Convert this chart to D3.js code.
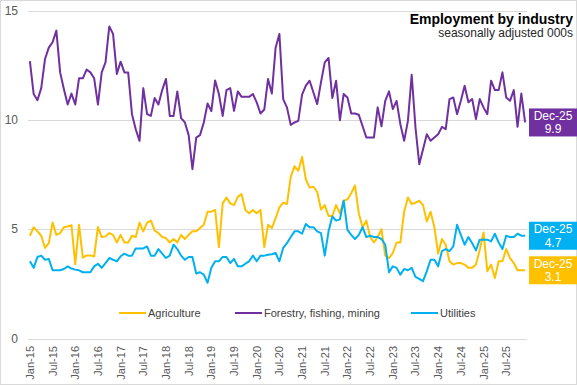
<!DOCTYPE html>
<html>
<head>
<meta charset="utf-8">
<script src="https://cdn.jsdelivr.net/npm/d3@7"></script>
<style>
  body { margin: 0; background: #fff; }
  svg { display: block; font-family: "Liberation Sans", Arial, sans-serif; }
</style>
</head>
<body>
<svg id="chart" width="577" height="385"></svg>
<script>
// monthly categories Jan-15 .. Dec-25
const months = d3.timeMonth.range(new Date(2015, 0, 1), new Date(2026, 0, 1));
const yTicks = [0, 5, 10, 15];

const agriculture = [
  4.7, 5.09, 4.9, 4.7, 4.14, 4.36, 5.3, 4.74, 4.82, 5.09, 5.12, 5.18,
  3.4, 5.2, 3.7, 3.8, 3.8, 3.75, 5.1, 4.64, 4.67, 4.82, 4.74, 4.39,
  4.74, 4.39, 4.39, 4.7, 4.64, 5.3, 4.9, 5.3, 5.39, 4.94, 4.82, 4.64,
  4.59, 4.39, 4.55, 4.39, 4.74, 4.55, 4.74, 4.9, 4.9, 5.05, 5.2, 5.8,
  5.8, 5.88, 4.18, 6.18, 6.45, 6.18, 6.1, 6.48, 6.6, 5.88, 5.73, 5.88,
  5.73, 5.88, 4.18, 5.2, 5.05, 5.5, 6.0, 6.21, 6.15, 7.39, 7.88, 7.67,
  8.3, 7.27, 6.9, 6.94, 6.71, 5.9, 6.1, 5.6, 5.6, 6.1, 5.73, 6.3,
  6.36, 6.64, 7.0, 5.73, 5.09, 5.39, 4.64, 4.39, 4.64, 5.0, 3.79, 3.68,
  3.91, 4.39, 4.39, 5.8, 6.45, 6.15, 6.21, 6.3, 6.1, 5.35, 5.8, 5.09,
  3.88, 4.55, 4.29, 3.53, 3.38, 3.45, 3.45, 3.38, 3.23, 3.23, 3.38, 4.06,
  4.85, 3.08, 3.38, 2.77, 3.53, 3.53, 4.09, 3.68, 3.45, 3.12, 3.12, 3.12
];

const forestry = [
  12.68, 11.18, 10.9, 11.45, 12.78, 13.3, 13.55, 14.08, 12.17, 11.4, 10.7, 11.2,
  10.7, 11.9, 11.9, 12.3, 12.17, 11.9, 10.7, 12.17, 12.63, 14.27, 13.93, 12.1,
  12.66, 12.17, 12.17, 10.26, 9.57, 9.04, 11.45, 10.26, 10.18, 11.0, 10.7, 11.36,
  11.87, 10.18, 10.18, 11.3, 10.08, 9.88, 9.3, 7.74, 9.19, 9.3, 9.88, 10.75,
  10.4, 11.8, 11.18, 10.18, 11.36, 11.45, 10.41, 11.3, 11.05, 11.05, 11.05, 11.18,
  10.8, 10.29, 10.47, 11.87, 11.2, 13.3, 13.93, 10.95, 10.57, 9.77, 9.88, 9.95,
  11.15, 11.56, 11.79, 11.25, 10.72, 11.71, 12.63, 12.83, 11.0, 11.79, 9.98, 11.18,
  11.02, 10.29, 10.29, 10.23, 9.72, 9.19, 9.19, 9.19, 10.57, 9.7, 10.87, 11.3,
  10.49, 10.87, 9.8, 9.04, 9.95, 12.06, 9.65, 7.97, 8.65, 9.34, 9.04, 9.19,
  9.34, 9.68, 9.57, 10.95, 11.02, 10.26, 10.87, 11.56, 10.8, 10.95, 10.03, 10.95,
  10.57, 10.26, 11.79, 11.36, 11.36, 12.17, 11.02, 10.87, 11.36, 9.68, 11.2, 9.88
];

const utilities = [
  3.53, 3.23, 3.73, 3.79, 3.6, 3.64, 3.12, 3.12, 3.12, 3.18, 3.3, 3.2,
  3.15, 3.12, 3.03, 3.03, 3.03, 3.3, 3.42, 3.23, 3.45, 3.68, 3.6, 3.53,
  3.76, 3.88, 3.79, 3.79, 4.12, 4.12, 4.12, 4.21, 3.79, 3.79, 4.09, 3.88,
  3.68, 3.79, 4.29, 4.09, 3.79, 3.6, 3.73, 3.73, 2.97, 3.03, 2.92, 2.55,
  3.23, 3.53, 3.53, 3.73, 3.73, 3.45, 3.64, 3.3, 3.3, 3.42, 3.53, 3.79,
  3.53, 3.79, 3.79, 3.83, 3.85, 3.91, 3.53, 4.14, 4.36, 4.64, 4.9, 4.9,
  4.79, 5.24, 5.09, 5.09, 4.9, 4.82, 3.79, 4.9, 5.58, 5.39, 5.45, 6.3,
  4.97, 4.74, 4.55, 4.74, 5.09, 4.64, 4.7, 4.64, 4.64, 4.55, 4.29, 3.03,
  3.3, 3.23, 2.92, 3.18, 3.12, 3.23, 2.82, 2.73, 2.62, 3.08, 3.6, 3.6,
  3.3, 4.0, 4.09, 4.0, 4.21, 5.2, 4.74, 4.29, 4.64, 4.36, 4.03, 4.52,
  4.52, 4.52, 4.44, 4.79, 4.39, 4.09, 4.7, 4.64, 4.64, 4.79, 4.7, 4.7
];

const series = [
  { name: "Agriculture", values: agriculture, color: "#FFC000" },
  { name: "Forestry, fishing, mining", values: forestry, color: "#7030A0" },
  { name: "Utilities", values: utilities, color: "#00B0F0" }
];

const svg = d3.select("#chart");
const W = 577, H = 385;
const plotL = 28, plotR = 527, plotT = 10.5, plotB = 338.5;

// outer border
svg.append("rect")
  .attr("x", 0.5).attr("y", 0.5)
  .attr("width", W - 1).attr("height", H - 1)
  .attr("fill", "#fff").attr("stroke", "#d9d9d9");

const x = d3.scaleBand().domain(d3.range(months.length)).range([plotL, plotR]);
const xc = i => x(i) + x.bandwidth() / 2;
const y = d3.scaleLinear().domain([0, 15]).range([plotB, plotT]);

// gridlines
svg.append("g")
  .selectAll("line")
  .data(yTicks)
  .join("line")
  .attr("x1", plotL).attr("x2", plotR)
  .attr("y1", d => Math.round(y(d)) + 0.5)
  .attr("y2", d => Math.round(y(d)) + 0.5)
  .attr("stroke", "#d9d9d9")
  .attr("stroke-width", 1);

// y labels
svg.append("g")
  .selectAll("text")
  .data(yTicks)
  .join("text")
  .attr("x", 18)
  .attr("y", d => y(d) + 4)
  .attr("text-anchor", "end")
  .attr("font-size", 12)
  .attr("fill", "#595959")
  .text(d => d);

// x labels every 6 months
const fmt = d3.timeFormat("%b-%y");
const xLabIdx = d3.range(0, months.length, 6);
svg.append("g")
  .selectAll("text")
  .data(xLabIdx)
  .join("text")
  .attr("transform", i => `translate(${xc(i) + 4},346) rotate(-90)`)
  .attr("text-anchor", "end")
  .attr("font-size", 11)
  .attr("fill", "#595959")
  .text(i => fmt(months[i]));

// lines
const line = d3.line()
  .x((d, i) => xc(i))
  .y(d => y(d));

svg.append("g")
  .selectAll("path")
  .data(series)
  .join("path")
  .attr("d", s => line(s.values))
  .attr("fill", "none")
  .attr("stroke", s => s.color)
  .attr("stroke-width", 2)
  .attr("stroke-linejoin", "round");

// legend
const legendPos = [119, 235, 411];
const lg = svg.append("g")
  .selectAll("g")
  .data(series)
  .join("g")
  .attr("transform", (s, i) => `translate(${legendPos[i]},313)`);
lg.append("line")
  .attr("x1", 0).attr("x2", 27)
  .attr("stroke", s => s.color)
  .attr("stroke-width", 2);
lg.append("text")
  .attr("x", 29)
  .attr("y", 4)
  .attr("font-size", 11)
  .attr("fill", "#404040")
  .text(s => s.name);

// end-value boxes
const last = months.length - 1;
const boxes = svg.append("g")
  .selectAll("g")
  .data(series)
  .join("g")
  .attr("transform", s => `translate(529,${y(s.values[last]) - 14})`);
boxes.append("rect")
  .attr("width", 48).attr("height", 28)
  .attr("fill", s => s.color);
boxes.append("text")
  .attr("x", 24).attr("y", 11.5)
  .attr("text-anchor", "middle")
  .attr("font-size", 12)
  .attr("fill", "#fff")
  .text(fmt(months[last]));
boxes.append("text")
  .attr("x", 24).attr("y", 25)
  .attr("text-anchor", "middle")
  .attr("font-size", 12)
  .attr("fill", "#fff")
  .text(s => d3.format(".1f")(s.values[last]));

// title
svg.append("text")
  .attr("x", 573).attr("y", 24)
  .attr("text-anchor", "end")
  .attr("font-size", 14)
  .attr("font-weight", "bold")
  .attr("fill", "#000")
  .text("Employment by industry");
svg.append("text")
  .attr("x", 573).attr("y", 37)
  .attr("text-anchor", "end")
  .attr("font-size", 12)
  .attr("fill", "#262626")
  .text("seasonally adjusted 000s");
</script>
</body>
</html>
